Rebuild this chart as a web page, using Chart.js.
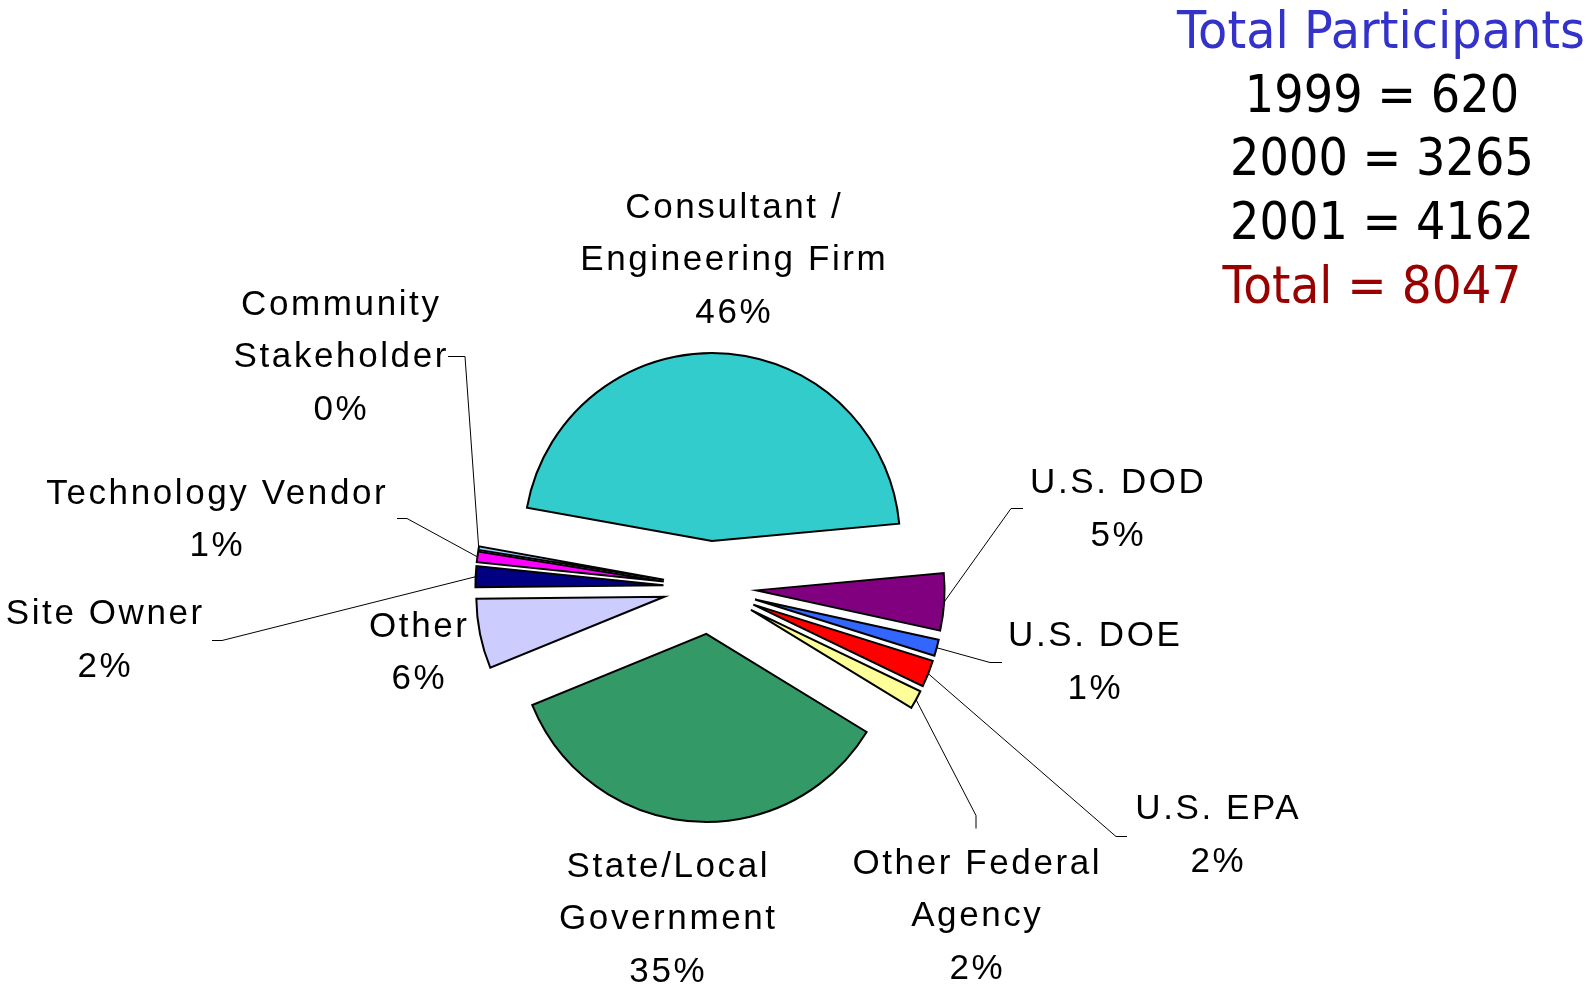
<!DOCTYPE html>
<html>
<head>
<meta charset="utf-8">
<script src="https://cdn.jsdelivr.net/npm/chart.js@4.4.0/dist/chart.umd.min.js"></script>
<style>
    html, body { margin: 0; padding: 0; background: #fff; }
    #wrap { position: relative; width: 1585px; height: 987px; overflow: hidden; }
    #pie { position: absolute; left: 0; top: 0; }
    .tot {
        position: absolute; width: 600px; text-align: center; white-space: nowrap;
        font-family: "DejaVu Sans", Verdana, sans-serif; font-size: 52px; line-height: 64px;
        transform-origin: 50% 50%;
    }
</style>
</head>
<body>
<div id="wrap">
    <canvas id="pie" width="1585" height="987"></canvas>
</div>
<script>
// slice data, clockwise from the top
const categories = [
    "Consultant /\nEngineering Firm",
    "U.S. DOD",
    "U.S. DOE",
    "U.S. EPA",
    "Other Federal\nAgency",
    "State/Local\nGovernment",
    "Other",
    "Site Owner",
    "Technology Vendor",
    "Community\nStakeholder"
];
const shares = [45.7, 4.9, 1.4, 2.3, 1.6, 35.1, 6.0, 1.8, 0.9, 0.3];
const sliceColors = ["#33CCCC", "#800080", "#3366FF", "#FF0000", "#FFFF99",
                     "#339966", "#CCCCFF", "#000080", "#FF00FF", "#99CCFF"];

// participants box
const years = ["1999", "2000", "2001"];
const participants = [620, 3265, 4162];

// label layout: [centre x, first baseline]
const labelPos = [
    [733, 217.5], [1117, 493], [1094, 646], [1217, 819], [976, 873.5],
    [667, 876.5], [418, 636.5], [104, 624], [216, 503.5], [340, 314.5]
];
// leader line stubs next to each label (end point comes from the slice)
const leaderStubs = [
    null,
    [[1023, 508], [1011, 508]],
    [[1002, 662], [990, 662]],
    [[1127, 836], [1116, 836]],
    [[976, 828], [976, 815]],
    null,
    null,
    [[212, 640], [222, 640]],
    [[397, 518], [407, 518]],
    [[448, 356], [465, 356]]
];
const lineStep = 52.5;
const labelFont = '35px "Liberation Sans", Arial, sans-serif';
const labelTracking = 2.6;

// arc that is moved out by its full offset and keeps its radius
class ExplodedArc extends Chart.ArcElement {
    draw(ctx) {
        const p = this.getProps(["x", "y", "startAngle", "endAngle", "outerRadius"]);
        const o = this.options;
        const mid = (p.startAngle + p.endAngle) / 2;
        const cx = p.x + Math.cos(mid) * o.offset;
        const cy = p.y + Math.sin(mid) * o.offset;
        ctx.save();
        ctx.beginPath();
        ctx.moveTo(cx, cy);
        ctx.arc(cx, cy, p.outerRadius, p.startAngle, p.endAngle);
        ctx.closePath();
        ctx.fillStyle = o.backgroundColor;
        ctx.fill();
        ctx.lineJoin = "miter";
        ctx.lineWidth = o.borderWidth;
        ctx.strokeStyle = o.borderColor;
        ctx.stroke();
        ctx.restore();
    }
}
ExplodedArc.id = "explodedArc";

class ExplodedPie extends Chart.PieController {}
ExplodedPie.id = "explodedPie";
ExplodedPie.defaults = { dataElementType: "explodedArc" };

Chart.register(ExplodedArc, ExplodedPie);

const sliceLabels = {
    id: "sliceLabels",
    afterDatasetsDraw(chart) {
        const ctx = chart.ctx;
        const meta = chart.getDatasetMeta(0);
        const total = shares.reduce((a, b) => a + b, 0);
        ctx.save();
        meta.data.forEach((arc, i) => {
            const p = arc.getProps(["x", "y", "startAngle", "endAngle", "outerRadius"]);
            const mid = (p.startAngle + p.endAngle) / 2;
            const reach = arc.options.offset + p.outerRadius;
            const ex = p.x + Math.cos(mid) * reach;
            const ey = p.y + Math.sin(mid) * reach;
            const stub = leaderStubs[i];
            if (stub) {
                ctx.beginPath();
                ctx.moveTo(stub[0][0], stub[0][1] + 0.5);
                ctx.lineTo(stub[1][0], stub[1][1] + 0.5);
                ctx.lineTo(ex, ey);
                ctx.lineWidth = 1;
                ctx.strokeStyle = "#000";
                ctx.stroke();
            }
            const lines = categories[i].split("\n");
            lines.push(Math.round(shares[i] / total * 100) + "%");
            ctx.font = labelFont;
            ctx.letterSpacing = labelTracking + "px";
            ctx.fillStyle = "#000";
            ctx.textAlign = "center";
            ctx.textBaseline = "alphabetic";
            lines.forEach((t, k) => {
                ctx.fillText(t, labelPos[i][0] + labelTracking / 2, labelPos[i][1] + k * lineStep);
            });
        });
        ctx.restore();
    }
};

new Chart(document.getElementById("pie").getContext("2d"), {
    type: "explodedPie",
    data: {
        labels: categories,
        datasets: [{
            data: shares,
            backgroundColor: sliceColors,
            borderColor: "#000",
            borderWidth: 2,
            offset: 46.6,
            radius: 188,
            rotation: -79.8
        }]
    },
    options: {
        responsive: false,
        animation: false,
        events: [],
        layout: { padding: { left: 0, right: 165, top: 188, bottom: 0 } },
        plugins: {
            legend: { display: false },
            tooltip: { enabled: false }
        }
    },
    plugins: [sliceLabels]
});

// participants text block
const wrap = document.getElementById("wrap");
function addLine(text, color, cx, baseline, squeeze) {
    const d = document.createElement("div");
    d.className = "tot";
    d.textContent = text;
    d.style.color = color;
    d.style.left = (cx - 300) + "px";
    d.style.top = (baseline - 50) + "px";
    d.style.transform = "scaleX(" + squeeze + ")";
    wrap.appendChild(d);
}
addLine("Total Participants", "#3333CC", 1381, 48, 0.92);
const yearBaselines = [112, 175, 239];
years.forEach((y, i) => addLine(y + " = " + participants[i], "#000", 1382, yearBaselines[i], 0.89));
addLine("Total = " + participants.reduce((a, b) => a + b, 0), "#990000", 1372, 303, 0.905);
</script>
</body>
</html>
